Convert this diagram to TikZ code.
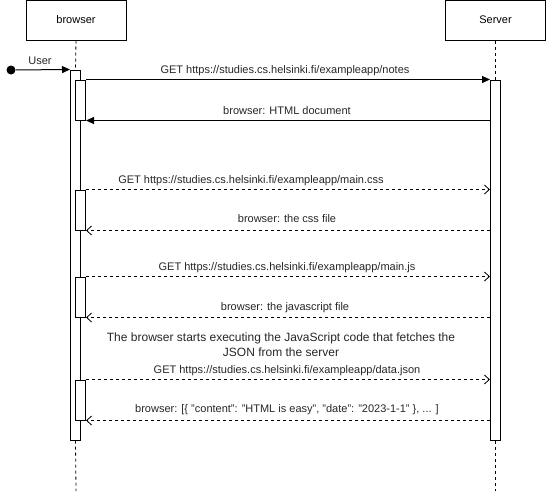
\documentclass[tikz,border=0pt]{standalone}
\usepackage{fontspec}
\setmainfont{Liberation Sans}
\usetikzlibrary{arrows.meta}
\begin{document}
\begin{tikzpicture}[x=1pt,y=-1pt,line width=1pt,
  actor/.style={draw,minimum width=100pt,minimum height=40pt,inner sep=0pt,font=\fontsize{11}{13}\selectfont},
  bar/.style={draw,fill=white,minimum width=10pt,inner sep=0pt},
  life/.style={dash pattern=on 3pt off 3pt,line width=0.8pt},
  sync/.style={-{Triangle[length=8pt,width=7pt]}},
  ret/.style={dash pattern=on 3pt off 3pt,line width=0.8pt,-{Straight Barb[length=5pt,width=9pt,line width=0.8pt]}},
  lbl/.style={font=\fontsize{11}{13}\selectfont,inner sep=0pt,text=black!85}]
\useasboundingbox (0,0) rectangle (546,491);
\node[actor] (browser) at (76,20) {browser};
\node[actor] (server) at (495.5,20) {Server};
\coordinate (bend) at (76,491);
\coordinate (send) at (495.5,491);
% lifelines
\node[bar,minimum height=370pt] (bA) at (75.5,255) {};
\node[bar,minimum height=360pt] (sA) at (495.5,260) {};
\draw[life] (browser.south) -- (bA.north);
\draw[life] (bA.south) -- (bend);
\draw[life] (server.south) -- (sA.north);
\draw[life] (sA.south) -- (send);
% nested activations
\node[bar,minimum height=40pt] (n1) at (80.5,100) {};
\node[bar,minimum height=40pt] (n2) at (80.5,210) {};
\node[bar,minimum height=40pt] (n3) at (80.5,297) {};
\node[bar,minimum height=40pt] (n4) at (80.5,400) {};
% user
\node[circle,fill=black,minimum size=9pt,inner sep=0pt] (user) at (11,70) {};
\draw[sync] (user) -- (bA.north west);
\node[lbl] (userl) at (40,61) {User};
% messages
\draw[sync] (n1.north east) -- (sA.west |- n1.north east);
\node[lbl] (m1) at (285,71) {GET https://studies.cs.helsinki.fi/exampleapp/notes};
\draw[sync] (sA.west |- n1.south east) -- (n1.south east);
\node[lbl] (m2) at (287,111) {browser: HTML document};
\draw[ret] (n2.north east) -- (sA.west |- n2.north east);
\node[lbl] (m3) at (251,181) {GET https://studies.cs.helsinki.fi/exampleapp/main.css};
\draw[ret] (sA.west |- n2.south east) -- (n2.south east);
\node[lbl] (m4) at (287,219) {browser: the css file};
\draw[ret] (n3.north east) -- (sA.west |- n3.north east);
\node[lbl] (m5) at (287,268) {GET https://studies.cs.helsinki.fi/exampleapp/main.js};
\draw[ret] (sA.west |- n3.south east) -- (n3.south east);
\node[lbl] (m6) at (285,308) {browser: the javascript file};
\node[lbl,align=center,font=\fontsize{12}{15}\selectfont] (note) at (281,344.5) {The browser starts executing the JavaScript code that fetches the\\JSON from the server};
\draw[ret] (n4.north east) -- (sA.west |- n4.north east);
\node[lbl] (m7) at (287,371) {GET https://studies.cs.helsinki.fi/exampleapp/data.json};
\draw[ret] (sA.west |- n4.south east) -- (n4.south east);
\node[lbl] (m8) at (287,410) {browser: [\{ "content": "HTML is easy", "date": "2023-1-1" \}, ... ]};
\end{tikzpicture}
\end{document}
